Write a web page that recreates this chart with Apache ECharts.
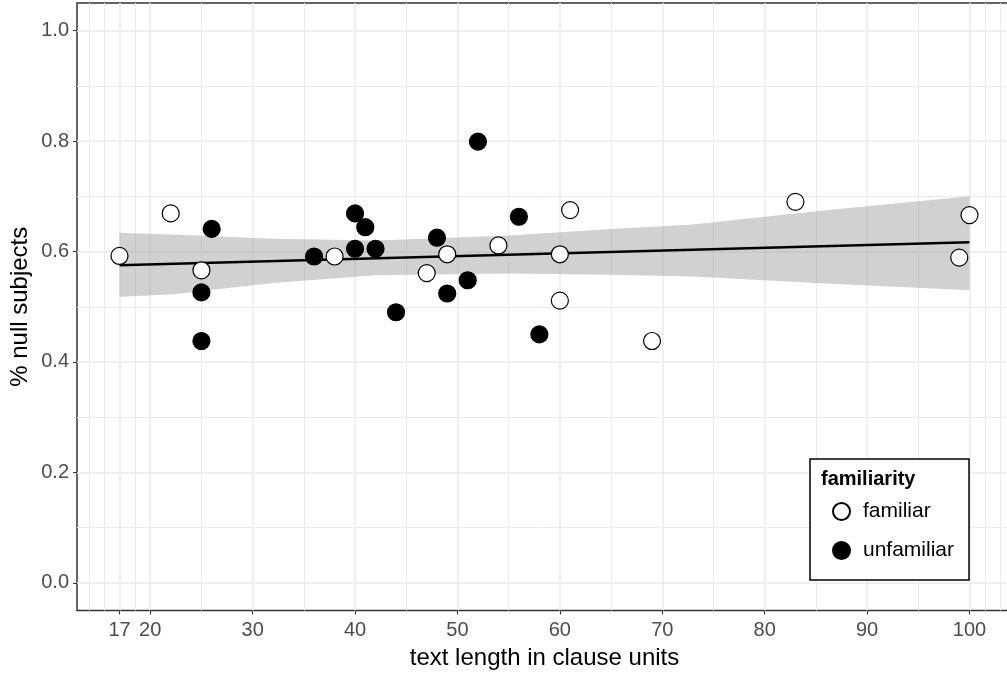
<!DOCTYPE html>
<html><head><meta charset="utf-8">
<script src="https://cdn.jsdelivr.net/npm/echarts@6/dist/echarts.min.js"></script>
<style>html,body{margin:0;padding:0;background:#fff}#c{width:1007px;height:676px}</style>
</head><body><div id="c"></div>
<script>
// ---- data ----
const xTicks = [17, 20, 30, 40, 50, 60, 70, 80, 90, 100];
const xMinorGrid = [14, 15.5, 18.5, 25, 35, 45, 55, 65, 75, 85, 95, 101.5, 103];
const yTicks = [0, 0.2, 0.4, 0.6, 0.8, 1.0];
const yMinorGrid = [0.1, 0.3, 0.5, 0.7, 0.9];

const familiarX = [17, 22, 25, 38, 47, 49, 54, 60, 60, 61, 69, 83, 99, 100];
const familiarY = [0.592, 0.669, 0.566, 0.591, 0.561, 0.595, 0.611, 0.595, 0.511, 0.675, 0.438, 0.690, 0.589, 0.666];
const unfamiliarX = [25, 25, 26, 36, 40, 40, 41, 42, 44, 48, 49, 51, 52, 56, 58];
const unfamiliarY = [0.526, 0.438, 0.641, 0.591, 0.669, 0.605, 0.644, 0.605, 0.490, 0.625, 0.524, 0.548, 0.799, 0.663, 0.450];

const fitX = [17, 100];
const fitY = [0.575, 0.617];
const bandX = [17, 22, 32, 42, 55, 65, 73, 85, 100];
const bandUpper = [0.634, 0.631, 0.623, 0.620, 0.629, 0.641, 0.649, 0.673, 0.700];
const bandLower = [0.518, 0.522, 0.543, 0.557, 0.560, 0.558, 0.555, 0.543, 0.530];

const FONT = 'Liberation Sans';
const gridCol = '#EBEBEB';

const chart = echarts.init(document.getElementById('c'), null, {renderer: 'canvas'});

const gridLines = []
  .concat(xMinorGrid.map(v => ({xAxis: v, lineStyle: {width: 1, color: gridCol, type: 'solid'}})))
  .concat(xTicks.map(v => ({xAxis: v, lineStyle: {width: 1.5, color: gridCol, type: 'solid'}})))
  .concat(yMinorGrid.map(v => ({yAxis: v, lineStyle: {width: 1, color: gridCol, type: 'solid'}})))
  .concat(yTicks.map(v => ({yAxis: v, lineStyle: {width: 1.5, color: gridCol, type: 'solid'}})));

const option = {
  animation: false,
  backgroundColor: '#fff',
  textStyle: {fontFamily: FONT},
  grid: {left: 77, top: 3, width: 935, height: 607.5, show: true, borderColor: '#333', borderWidth: 1.5,
    backgroundColor: 'transparent', outerBoundsMode: 'none', containLabel: false},
  xAxis: {
    type: 'value', min: 12.85, max: 104.15, position: 'bottom',
    name: 'text length in clause units', nameLocation: 'middle', nameGap: 36,
    nameTextStyle: {fontSize: 24, color: '#000', fontFamily: FONT},
    axisLine: {show: false, onZero: false},
    splitLine: {show: false},
    axisTick: {show: true, length: 4, lineStyle: {color: '#333', width: 1}, customValues: xTicks},
    axisLabel: {fontSize: 20, color: '#4D4D4D', margin: 10, fontFamily: FONT, customValues: xTicks}
  },
  yAxis: {
    type: 'value', min: -0.05, max: 1.05, position: 'left',
    name: '% null subjects', nameLocation: 'middle', nameGap: 45, nameMoveOverlap: false,
    nameTextStyle: {fontSize: 24, color: '#000', fontFamily: FONT},
    axisLine: {show: false, onZero: false},
    splitLine: {show: false},
    axisTick: {show: true, length: 4, lineStyle: {color: '#333', width: 1}, customValues: yTicks},
    axisLabel: {fontSize: 20, color: '#4D4D4D', margin: 8, fontFamily: FONT, customValues: yTicks,
      formatter: v => v.toFixed(1)}
  },
  legend: {
    orient: 'vertical', left: 810, top: 459, z: 10,
    padding: [42, 15, 19, 22],
    itemGap: 18, itemWidth: 17, itemHeight: 17,
    backgroundColor: '#fff', borderColor: '#000', borderWidth: 1.5,
    textStyle: {fontSize: 21, color: '#000', fontFamily: FONT, padding: [0, 0, 0, 8]},
    data: [{name: 'familiar', icon: 'circle'}, {name: 'unfamiliar', icon: 'circle'}]
  },
  graphic: [{
    type: 'text', left: 821, top: 469, z: 100,
    style: {text: 'familiarity', font: 'bold 20px "Liberation Sans"', fill: '#000'}
  }],
  series: [
    {
      name: 'gridlines', type: 'line', data: [], z: 0, silent: true,
      markLine: {silent: true, z: 0, symbol: ['none', 'none'], label: {show: false}, animation: false,
        emphasis: {disabled: true}, data: gridLines}
    },
    {
      name: 'band', type: 'custom', z: 1, silent: true,
      data: bandX.map((x, i) => [x, bandUpper[i], bandLower[i]]),
      encode: {x: 0, y: [1, 2]},
      renderItem: function (params, api) {
        if (params.dataIndex !== 0) return null;
        const pts = [];
        for (let i = 0; i < bandX.length; i++) pts.push(api.coord([bandX[i], bandUpper[i]]));
        for (let i = bandX.length - 1; i >= 0; i--) pts.push(api.coord([bandX[i], bandLower[i]]));
        return {type: 'polygon', shape: {points: pts}, style: {fill: 'rgba(153,153,153,0.45)'}};
      }
    },
    {
      name: 'fit', type: 'line', z: 2, silent: true, showSymbol: false,
      data: fitX.map((x, i) => [x, fitY[i]]),
      lineStyle: {color: '#000', width: 2.5}
    },
    {
      name: 'familiar', type: 'scatter', z: 3, symbol: 'circle', symbolSize: 17,
      data: familiarX.map((x, i) => [x, familiarY[i]]),
      itemStyle: {color: '#fff', borderColor: '#000', borderWidth: 1.2, opacity: 1}
    },
    {
      name: 'unfamiliar', type: 'scatter', z: 3, symbol: 'circle', symbolSize: 17,
      data: unfamiliarX.map((x, i) => [x, unfamiliarY[i]]),
      itemStyle: {color: '#000', borderColor: '#000', borderWidth: 1.2, opacity: 1}
    }
  ]
};
chart.setOption(option);
</script>
</body></html>
